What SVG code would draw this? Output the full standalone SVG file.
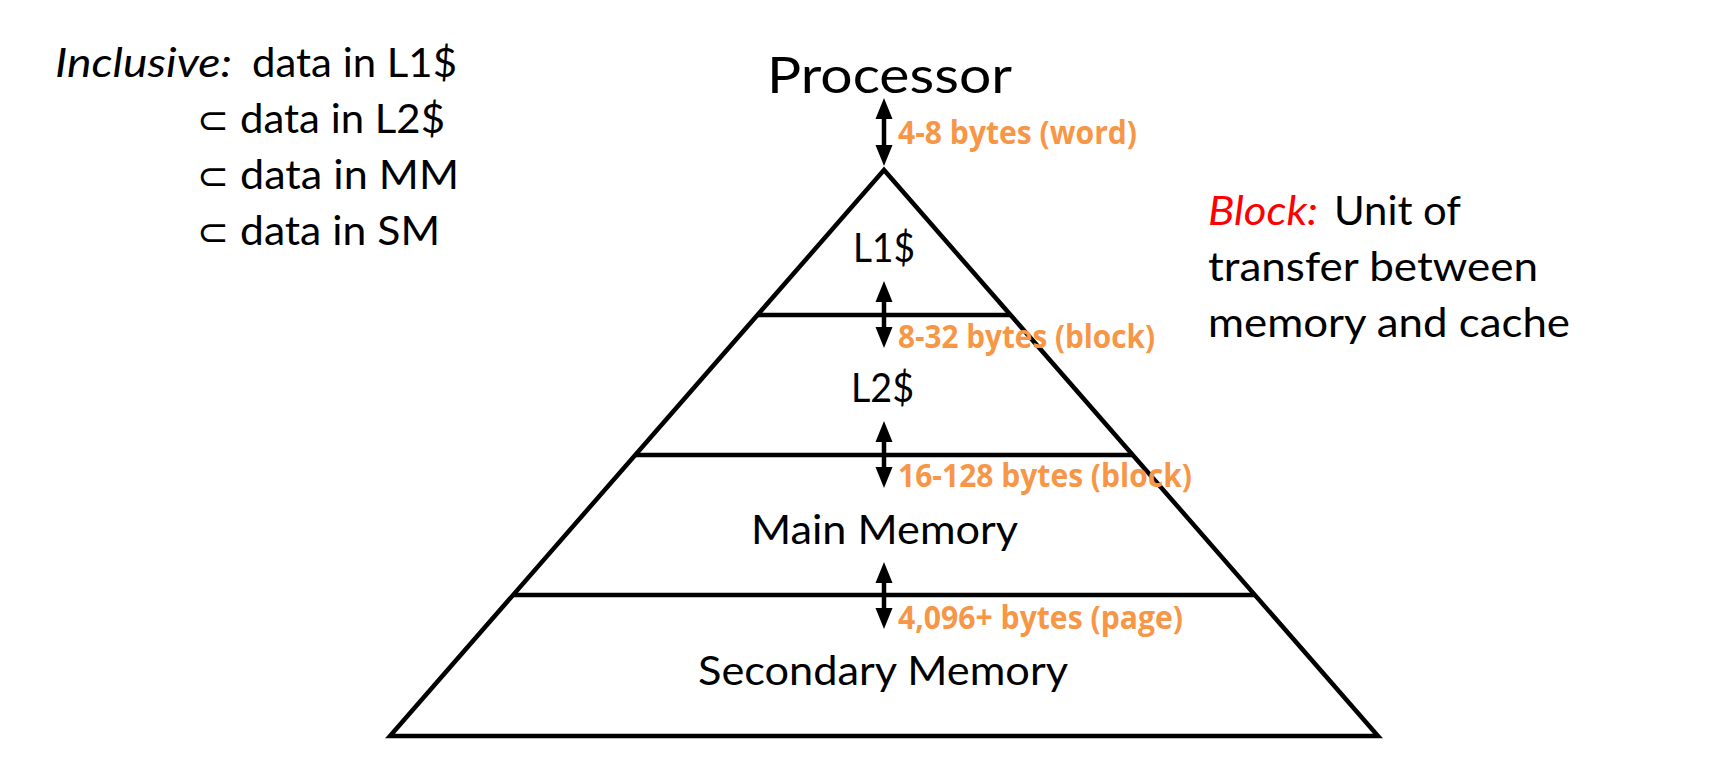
<svg xmlns="http://www.w3.org/2000/svg" width="1710" height="759" viewBox="0 0 1710 759">
<style>
.t{font-family:Lato,"Open Sans","Liberation Sans",sans-serif;fill:#000}
.big{font-size:40px}
.proc{font-size:51px}
.or{font-family:"Open Sans",Lato,"Liberation Sans",sans-serif;font-weight:bold;font-size:32px;fill:#F79646}
.ln{stroke:#000;stroke-width:4.5;fill:none}
.arr{stroke:#000;stroke-width:4.5;fill:none;marker-start:url(#ah);marker-end:url(#ah)}
.sub{font-family:"DejaVu Sans",sans-serif}
</style>
<defs>
<marker id="ah" markerUnits="userSpaceOnUse" markerWidth="21" markerHeight="17" refX="1" refY="8.5" orient="auto-start-reverse" overflow="visible">
<path d="M0,0 L21,8.5 L0,17 z" fill="#000"/>
</marker>
</defs>
<rect width="1710" height="759" fill="#fff"/>

<g id="pyramid">
<polygon class="ln" points="884,170 390,736 1378,736"/>
<line class="ln" x1="757" y1="315" x2="1011" y2="315"/>
<line class="ln" x1="635" y1="455" x2="1133" y2="455"/>
<line class="ln" x1="513" y1="595" x2="1255" y2="595"/>
</g>

<g id="connectors">
<line class="arr" x1="884" y1="118" x2="884" y2="146"/>
<line class="arr" x1="884" y1="301" x2="884" y2="328"/>
<line class="arr" x1="884" y1="441" x2="884" y2="468"/>
<line class="arr" x1="884" y1="582" x2="884" y2="609"/>
</g>

<g id="processor">
<text class="t proc" x="767" y="93" textLength="245" lengthAdjust="spacingAndGlyphs">Processor</text>
</g>
<g id="l1">
<text class="t big" x="853" y="262" textLength="62" lengthAdjust="spacingAndGlyphs">L1$</text>
</g>
<g id="l2">
<text class="t big" x="851" y="402" textLength="63" lengthAdjust="spacingAndGlyphs">L2$</text>
</g>
<g id="mm">
<text class="t big" x="751" y="544" textLength="267" lengthAdjust="spacingAndGlyphs">Main Memory</text>
</g>
<g id="sm">
<text class="t big" x="698" y="685" textLength="370" lengthAdjust="spacingAndGlyphs">Secondary Memory</text>
</g>

<g id="labels">
<text class="or" x="898" y="144" textLength="239" lengthAdjust="spacingAndGlyphs">4-8 bytes (word)</text>
<text class="or" x="898" y="348" textLength="257" lengthAdjust="spacingAndGlyphs">8-32 bytes (block)</text>
<text class="or" x="898" y="487" textLength="294" lengthAdjust="spacingAndGlyphs">16-128 bytes (block)</text>
<text class="or" x="898" y="629" textLength="285" lengthAdjust="spacingAndGlyphs">4,096+ bytes (page)</text>
</g>

<g id="inclusive">
<text class="t big" x="55" y="77"><tspan font-style="italic" textLength="177" lengthAdjust="spacingAndGlyphs">Inclusive:</tspan><tspan x="252" textLength="205" lengthAdjust="spacingAndGlyphs">data in L1$</tspan></text>
<text class="t big" x="197" y="133"><tspan class="sub" font-size="38">⊂</tspan><tspan x="240" textLength="205" lengthAdjust="spacingAndGlyphs">data in L2$</tspan></text>
<text class="t big" x="197" y="189"><tspan class="sub" font-size="38">⊂</tspan><tspan x="240" textLength="219" lengthAdjust="spacingAndGlyphs">data in MM</tspan></text>
<text class="t big" x="197" y="245"><tspan class="sub" font-size="38">⊂</tspan><tspan x="240" textLength="200" lengthAdjust="spacingAndGlyphs">data in SM</tspan></text>
</g>

<g id="block">
<text class="t big" x="1208" y="225"><tspan fill="#FF0000" font-style="italic" textLength="110" lengthAdjust="spacingAndGlyphs">Block:</tspan><tspan x="1334" textLength="127" lengthAdjust="spacingAndGlyphs">Unit of</tspan></text>
<text class="t big" x="1208" y="281" textLength="330" lengthAdjust="spacingAndGlyphs">transfer between</text>
<text class="t big" x="1208" y="337" textLength="362" lengthAdjust="spacingAndGlyphs">memory and cache</text>
</g>
</svg>
